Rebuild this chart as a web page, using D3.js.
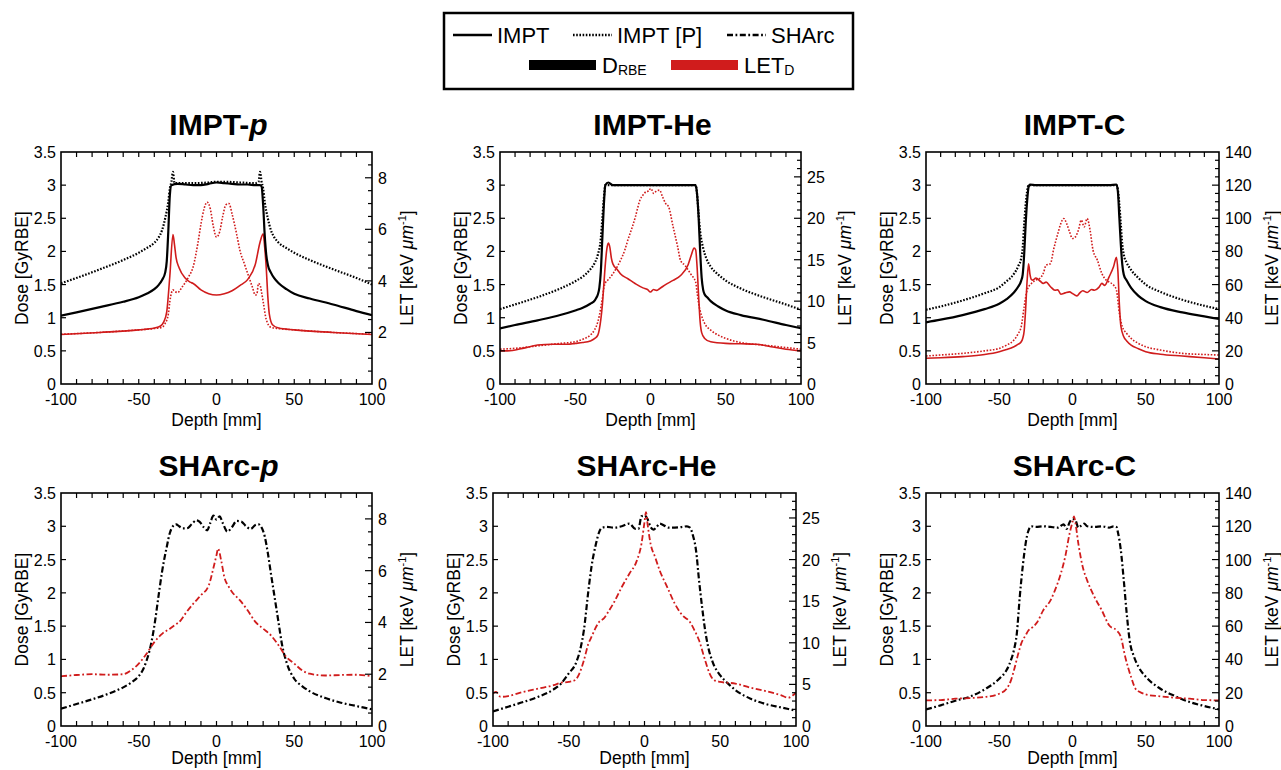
<!DOCTYPE html>
<meta charset="utf-8">
<style>
body { margin: 0; background: #fff; }
svg { font-family: "Liberation Sans", Arial, Helvetica, sans-serif; }
.tick-label { font-size: 16px; }
.axis-label { font-size: 17.5px; text-anchor: middle; }
.title { font-size: 30px; font-weight: bold; text-anchor: middle; }
.frame { fill: none; stroke: #000; stroke-width: 1.6px; }
.tick { stroke: #000; stroke-width: 1.2px; }
.line { fill: none; stroke-linejoin: round; }
</style>
<svg width="1281" height="770"></svg>
<script src="https://d3js.org/d3.v7.min.js"></script>
<script>

// ---- data: [depth mm, value] ----
// dose in GyRBE, LET in keV/um

var imptP_dose = [[-100,1.03],[-90,1.08],[-75,1.16],[-60,1.24],[-50,1.31],[-45,1.36],[-40,1.43],[-37,1.5],[-35,1.57],[-33,1.68],[-32,1.85],[-31,2.3],[-30,2.85],[-29,3.0],[-25,3.02],[-20,3.01],[-15,3.0],[-10,3.0],[-5,3.02],[0,3.04],[5,3.03],[10,3.02],[15,3.01],[20,3.01],[25,3.0],[28,3.0],[29,2.98],[30,2.7],[31,2.25],[32,1.95],[33,1.8],[35,1.68],[37,1.6],[40,1.52],[45,1.43],[50,1.36],[60,1.29],[75,1.2],[90,1.1],[100,1.04]];
var imptP_doseP = [[-100,1.52],[-90,1.6],[-75,1.73],[-60,1.87],[-50,1.98],[-45,2.05],[-40,2.13],[-37,2.22],[-35,2.32],[-33,2.5],[-31,2.75],[-30,2.95],[-29,3.05],[-28,3.2],[-27,3.03],[-25,3.03],[-15,3.03],[-5,3.04],[0,3.05],[5,3.05],[15,3.04],[25,3.03],[27,3.05],[28,3.2],[29,3.05],[30,2.95],[31,2.75],[33,2.5],[35,2.32],[37,2.22],[40,2.13],[45,2.05],[50,1.98],[60,1.87],[75,1.73],[90,1.6],[100,1.5]];
var imptP_let = [[-100,1.92],[-75,2.0],[-50,2.1],[-40,2.17],[-36,2.25],[-34,2.4],[-32,2.8],[-30,4.2],[-28,5.8],[-27,5.4],[-26,4.9],[-24,4.5],[-20,4.1],[-17,3.95],[-15,3.9],[-10,3.65],[-5,3.5],[0,3.45],[5,3.5],[10,3.62],[15,3.82],[20,4.05],[25,4.65],[28,5.5],[30,5.83],[31,5.3],[32,4.5],[33,3.4],[34,2.7],[36,2.3],[40,2.17],[50,2.1],[75,2.0],[100,1.92]];
var imptP_letP = [[-100,1.93],[-75,2.0],[-50,2.1],[-40,2.15],[-35,2.2],[-33,2.35],[-31,2.7],[-30,3.2],[-28,3.65],[-27,3.6],[-25,3.55],[-22,3.77],[-18,4.15],[-15,4.55],[-12,5.45],[-10,6.2],[-8,6.8],[-6,7.05],[-4,6.8],[-2,6.1],[0,5.7],[2,5.9],[4,6.5],[6,6.95],[8,7.0],[10,6.6],[13,5.8],[15,5.2],[18,4.65],[20,4.3],[23,3.77],[25,3.45],[26,3.5],[27,3.9],[28,3.85],[29,3.55],[30,3.2],[32,2.5],[35,2.2],[40,2.15],[50,2.1],[75,2.0],[100,1.93]];

var imptHe_dose = [[-100,0.84],[-90,0.89],[-75,0.96],[-60,1.04],[-50,1.11],[-45,1.15],[-40,1.21],[-37,1.26],[-36,1.3],[-35,1.35],[-34,1.45],[-33,1.7],[-32,2.2],[-31,2.7],[-30,3.0],[-28,3.04],[-25,3.0],[-15,3.0],[0,3.0],[15,3.0],[25,3.0],[30,3.0],[31,2.85],[32,2.5],[33,2.0],[34,1.6],[35,1.42],[36,1.35],[38,1.3],[40,1.25],[45,1.17],[50,1.11],[60,1.04],[75,0.97],[90,0.89],[100,0.84]];
var imptHe_doseP = [[-100,1.13],[-90,1.2],[-75,1.31],[-60,1.44],[-50,1.55],[-45,1.62],[-40,1.73],[-37,1.83],[-35,1.95],[-33,2.2],[-32,2.5],[-31,2.8],[-30,3.0],[-25,3.0],[-15,3.0],[0,3.0],[15,3.0],[25,3.0],[30,3.0],[31,2.85],[32,2.55],[33,2.3],[35,2.05],[37,1.9],[40,1.77],[45,1.65],[50,1.56],[60,1.44],[75,1.31],[90,1.2],[100,1.12]];
var imptHe_let = [[-100,4.0],[-95,4.0],[-85,4.3],[-75,4.7],[-65,4.8],[-55,4.8],[-50,4.9],[-45,5.0],[-40,5.2],[-37,5.5],[-35,5.9],[-34,6.6],[-33,7.8],[-32,9.5],[-31,12.0],[-30,14.5],[-29,16.3],[-28,17.0],[-27,16.5],[-26,15.2],[-25,14.5],[-22,13.8],[-20,13.3],[-15,12.7],[-10,12.1],[-5,11.6],[-2,11.4],[0,11.1],[2,11.4],[4,11.3],[6,11.5],[10,12.0],[15,12.5],[20,13.1],[25,14.4],[27,15.5],[29,16.4],[30,16.2],[31,14.0],[32,10.5],[33,7.5],[34,6.2],[36,5.5],[40,5.1],[50,4.9],[60,4.85],[70,4.8],[80,4.5],[90,4.2],[100,4.0]];
var imptHe_letP = [[-100,4.2],[-90,4.3],[-75,4.6],[-60,4.9],[-50,5.1],[-45,5.4],[-40,5.9],[-37,6.6],[-35,7.5],[-33,9.2],[-32,10.3],[-31,11.6],[-30,12.2],[-28,12.6],[-25,13.3],[-22,14.2],[-20,14.9],[-17,16.2],[-15,17.4],[-12,19.0],[-10,20.2],[-7,22.2],[-5,22.8],[-3,23.2],[-1,23.3],[0,23.6],[1,23.4],[2,23.0],[4,23.3],[6,23.4],[8,22.6],[10,21.8],[12,21.4],[15,19.0],[18,16.6],[20,14.9],[23,14.3],[27,13.2],[30,12.3],[31,11.0],[32,9.7],[34,8.2],[36,7.3],[40,6.5],[45,5.9],[50,5.5],[60,5.0],[75,4.7],[90,4.4],[100,4.2]];

var imptC_dose = [[-100,0.93],[-90,0.97],[-75,1.04],[-60,1.13],[-50,1.21],[-45,1.28],[-40,1.38],[-37,1.47],[-35,1.56],[-34,1.65],[-33,1.95],[-32,2.4],[-31,2.75],[-30,2.97],[-29,3.01],[-25,3.0],[0,3.0],[25,3.0],[30,3.01],[31,2.9],[32,2.5],[33,2.1],[34,1.8],[35,1.65],[37,1.56],[40,1.45],[45,1.33],[50,1.25],[60,1.16],[75,1.08],[90,1.02],[100,0.98]];
var imptC_doseP = [[-100,1.12],[-90,1.17],[-75,1.26],[-60,1.37],[-50,1.46],[-45,1.55],[-40,1.66],[-37,1.78],[-35,1.9],[-34,2.05],[-33,2.4],[-32,2.7],[-31,2.9],[-30,3.0],[0,3.0],[30,3.0],[31,2.93],[32,2.7],[33,2.4],[34,2.1],[35,1.95],[37,1.83],[40,1.72],[45,1.6],[50,1.5],[60,1.39],[75,1.27],[90,1.18],[100,1.13]];
var imptC_let = [[-100,15.5],[-90,15.8],[-75,16.5],[-60,17.8],[-50,19.5],[-45,20.8],[-40,22.5],[-37,24],[-35,25.5],[-34,27.5],[-33,32],[-32,45],[-31,62],[-30,72.5],[-29,66],[-28,63],[-27,62.7],[-25,64],[-22,62],[-20,60.7],[-18,61.5],[-15,58.7],[-12,56.6],[-10,56.8],[-8,54.2],[-5,55.0],[-2,55.6],[0,54.6],[3,53.2],[5,55],[7,56.3],[10,55.2],[13,57],[15,56.6],[18,58.3],[20,60.7],[22,59.5],[25,64.7],[28,70.7],[30,76.5],[31,68],[32,48],[33,35],[35,28.5],[37,26],[40,23.5],[45,21.3],[50,19.5],[60,18],[75,16.9],[90,15.8],[100,15.1]];
var imptC_letP = [[-100,16.9],[-90,17.5],[-75,18.5],[-60,20],[-50,21.5],[-45,23.5],[-40,26.5],[-37,30.5],[-35,34.6],[-33,46.6],[-31,56.6],[-28,60.7],[-25,62.7],[-22,64],[-20,66.7],[-18,71.7],[-15,72.7],[-13,80.8],[-10,90.8],[-8,96.8],[-6,99.9],[-4,96.8],[-2,91.8],[0,87.8],[2,88.8],[4,92.8],[6,98.9],[8,94.8],[10,99.9],[12,92.8],[14,80.8],[17,74.7],[20,66.7],[23,62.7],[25,61.5],[28,59.7],[30,56.6],[32,42.6],[34,34.6],[37,30.5],[40,27.5],[45,24.5],[50,22.5],[60,20.5],[75,18.5],[90,17.8],[100,17.5]];

var sharcP_dose = [[-100,0.26],[-90,0.33],[-80,0.4],[-70,0.48],[-60,0.58],[-55,0.65],[-50,0.75],[-47,0.86],[-45,0.98],[-42,1.24],[-40,1.5],[-37,2.0],[-35,2.32],[-32,2.69],[-30,2.9],[-28,3.0],[-26,3.03],[-24,3.0],[-22,2.97],[-19,2.97],[-16,3.03],[-13,3.09],[-11,3.07],[-8,2.98],[-6,2.94],[-4,3.05],[-2,3.16],[0,3.1],[2,3.15],[4,3.05],[7,2.92],[10,2.99],[13,3.08],[16,3.07],[19,3.0],[22,2.96],[25,3.02],[27,3.03],[29,2.98],[31,2.85],[33,2.6],[35,2.29],[37,1.99],[40,1.54],[42,1.24],[45,0.96],[50,0.71],[55,0.6],[60,0.52],[70,0.42],[80,0.35],[90,0.3],[100,0.25]];
var sharcP_let = [[-100,1.92],[-90,1.97],[-80,2.0],[-70,1.98],[-60,2.0],[-55,2.15],[-50,2.41],[-45,2.79],[-40,3.24],[-35,3.56],[-30,3.76],[-27,3.89],[-23,4.08],[-20,4.34],[-15,4.72],[-10,5.05],[-5,5.43],[-2,6.1],[0,6.6],[1,6.85],[3,6.4],[5,5.76],[8,5.37],[10,5.18],[15,4.86],[20,4.47],[25,4.02],[30,3.76],[35,3.5],[40,3.11],[45,2.66],[50,2.41],[55,2.15],[60,2.02],[70,1.95],[80,1.97],[90,1.98],[100,1.92]];

var sharcHe_dose = [[-100,0.22],[-90,0.29],[-80,0.36],[-70,0.44],[-60,0.55],[-55,0.64],[-50,0.79],[-45,0.96],[-42,1.19],[-40,1.44],[-37,2.04],[-35,2.39],[-32,2.74],[-30,2.91],[-28,2.98],[-25,2.99],[-20,2.98],[-15,3.0],[-10,3.04],[-6,2.96],[-4,2.96],[-2,3.15],[0,3.16],[2,3.11],[4,2.99],[6,2.95],[8,2.99],[10,3.04],[13,3.01],[16,2.98],[20,2.98],[25,2.99],[28,3.0],[30,2.98],[32,2.86],[34,2.64],[36,2.19],[38,1.79],[40,1.44],[42,1.19],[45,0.96],[50,0.76],[55,0.64],[60,0.54],[70,0.41],[80,0.33],[90,0.28],[100,0.23]];
var sharcHe_let = [[-100,3.9],[-98,4.1],[-95,3.5],[-90,3.6],[-80,4.1],[-70,4.5],[-60,4.9],[-55,5.2],[-50,5.3],[-46,5.5],[-43,6.3],[-40,7.9],[-37,9.9],[-35,10.7],[-32,11.9],[-30,12.5],[-27,12.9],[-24,13.7],[-20,14.9],[-15,16.7],[-10,18.3],[-5,19.9],[-2,21.9],[0,24.5],[1,25.7],[2,24.3],[4,21.9],[7,20.3],[10,18.7],[15,16.7],[20,14.7],[25,13.3],[30,12.5],[33,11.5],[36,10.3],[40,7.9],[43,6.3],[46,5.5],[50,5.3],[60,5.1],[70,4.6],[80,4.2],[90,3.7],[95,3.4],[98,3.7],[100,4.0]];

var sharcC_dose = [[-100,0.25],[-90,0.31],[-80,0.38],[-70,0.44],[-60,0.55],[-50,0.71],[-45,0.84],[-42,0.99],[-40,1.14],[-38,1.39],[-36,1.94],[-34,2.39],[-32,2.74],[-30,2.94],[-28,3.0],[-25,2.99],[-20,3.0],[-15,2.99],[-10,2.98],[-6,3.03],[-4,2.96],[-2,3.06],[0,3.11],[2,3.09],[4,2.98],[6,3.01],[8,3.04],[10,3.0],[15,2.99],[20,3.0],[25,2.98],[28,3.0],[30,2.99],[31,2.91],[33,2.64],[35,2.19],[37,1.69],[39,1.29],[42,1.04],[45,0.89],[50,0.74],[60,0.56],[70,0.45],[80,0.36],[90,0.3],[100,0.25]];
var sharcC_let = [[-100,15.4],[-90,15.6],[-80,16.4],[-70,16.8],[-60,17.4],[-50,19.4],[-45,22.4],[-42,27.4],[-40,33.4],[-37,43.5],[-35,49.5],[-32,54.5],[-30,57.5],[-27,59.5],[-24,62.5],[-20,69.5],[-15,75.5],[-12,81.5],[-8,91.5],[-5,101.6],[-2,115.6],[0,122.6],[1,126],[2,122],[4,109.6],[7,95.5],[10,87.5],[15,77.5],[20,69.5],[25,60.5],[30,57.5],[33,53.5],[36,41.5],[40,29.4],[43,22.4],[46,20.4],[50,19.0],[60,17.8],[70,17.0],[80,16.4],[90,15.6],[100,15.4]];

// axes
var depthTicks = [-100, -50, 0, 50, 100];
var doseTicks = [0, 0.5, 1, 1.5, 2, 2.5, 3, 3.5];
var letTicksP = [0, 2, 4, 6, 8];
var letTicksHe = [0, 5, 10, 15, 20, 25];
var letTicksC = [0, 20, 40, 60, 80, 100, 120, 140];

// ---- layout ----
var svg = d3.select("svg");
var red = "#d01c1c";

var panels = [
  { title: "IMPT-", ital: "p", x0: 61, x1: 372, y0: 152, y1: 384, letMax: 9, letTicks: letTicksP, letMinor: 0.5,
    series: [[imptP_let, "let", "solid"], [imptP_letP, "let", "dot"], [imptP_dose, "dose", "solid"], [imptP_doseP, "dose", "dot"]] },
  { title: "IMPT-He", x0: 500, x1: 801, y0: 152, y1: 384, letMax: 28, letTicks: letTicksHe, letMinor: 1,
    series: [[imptHe_let, "let", "solid"], [imptHe_letP, "let", "dot"], [imptHe_dose, "dose", "solid"], [imptHe_doseP, "dose", "dot"]] },
  { title: "IMPT-C", x0: 926, x1: 1219, y0: 152, y1: 384, letMax: 140, letTicks: letTicksC, letMinor: 5,
    series: [[imptC_let, "let", "solid"], [imptC_letP, "let", "dot"], [imptC_dose, "dose", "solid"], [imptC_doseP, "dose", "dot"]] },
  { title: "SHArc-", ital: "p", x0: 61, x1: 372, y0: 493, y1: 726, letMax: 9, letTicks: letTicksP, letMinor: 0.5,
    series: [[sharcP_dose, "dose", "dashdot"], [sharcP_let, "let", "dashdot"]] },
  { title: "SHArc-He", x0: 493, x1: 796, y0: 493, y1: 726, letMax: 28, letTicks: letTicksHe, letMinor: 1,
    series: [[sharcHe_dose, "dose", "dashdot"], [sharcHe_let, "let", "dashdot"]] },
  { title: "SHArc-C", x0: 926, x1: 1219, y0: 493, y1: 726, letMax: 140, letTicks: letTicksC, letMinor: 5,
    series: [[sharcC_dose, "dose", "dashdot"], [sharcC_let, "let", "dashdot"]] }
];

var dashes = { solid: null, dot: "1.6,1.6", dashdot: "6,2.5,1.8,2.5" };

panels.forEach(function(p, i) {
  var g = svg.append("g");
  var x = d3.scaleLinear().domain([-100, 100]).range([p.x0, p.x1]);
  var yDose = d3.scaleLinear().domain([0, 3.5]).range([p.y1, p.y0]);
  var yLet = d3.scaleLinear().domain([0, p.letMax]).range([p.y1, p.y0]);

  g.append("clipPath").attr("id", "clip" + i)
    .append("rect").attr("x", p.x0).attr("y", p.y0).attr("width", p.x1 - p.x0).attr("height", p.y1 - p.y0);

  // curves
  var plot = g.append("g").attr("clip-path", "url(#clip" + i + ")");
  p.series.forEach(function(s) {
    var ys = s[1] === "dose" ? yDose : yLet;
    var line = d3.line().x(function(d) { return x(d[0]); }).y(function(d) { return ys(d[1]); })
      .curve(d3.curveMonotoneX);
    plot.append("path").datum(s[0]).attr("class", "line")
      .attr("d", line)
      .attr("stroke", s[1] === "dose" ? "#000" : red)
      .attr("stroke-width", s[1] === "dose" ? 2.2 : (s[2] === "dashdot" ? 1.8 : 1.6))
      .attr("stroke-dasharray", dashes[s[2]]);
  });

  // frame
  g.append("rect").attr("class", "frame")
    .attr("x", p.x0).attr("y", p.y0).attr("width", p.x1 - p.x0).attr("height", p.y1 - p.y0);

  // depth ticks, every 10 mm top and bottom, pointing in
  d3.range(-90, 100, 10).forEach(function(v) {
    g.append("line").attr("class", "tick").attr("x1", x(v)).attr("x2", x(v)).attr("y1", p.y1).attr("y2", p.y1 - 5);
    g.append("line").attr("class", "tick").attr("x1", x(v)).attr("x2", x(v)).attr("y1", p.y0).attr("y2", p.y0 + 5);
  });
  g.selectAll(".xl").data(depthTicks).enter().append("text")
    .attr("class", "tick-label").attr("text-anchor", "middle")
    .attr("x", function(d) { return x(d); }).attr("y", p.y1 + 21)
    .text(function(d) { return d; });

  // dose axis
  doseTicks.forEach(function(v) {
    if (v > 0 && v < 3.5)
      g.append("line").attr("class", "tick").attr("x1", p.x0).attr("x2", p.x0 + 5).attr("y1", yDose(v)).attr("y2", yDose(v));
  });
  g.selectAll(".yl").data(doseTicks).enter().append("text")
    .attr("class", "tick-label").attr("text-anchor", "end")
    .attr("x", p.x0 - 5).attr("y", function(d) { return yDose(d) + 6; })
    .text(function(d) { return d; });

  // LET axis
  d3.range(p.letMinor, p.letMax, p.letMinor).forEach(function(v) {
    var major = p.letTicks.indexOf(+v.toFixed(3)) >= 0;
    g.append("line").attr("class", "tick").attr("x1", p.x1).attr("x2", p.x1 - (major ? 7 : 4))
      .attr("y1", yLet(v)).attr("y2", yLet(v));
  });
  g.selectAll(".rl").data(p.letTicks).enter().append("text")
    .attr("class", "tick-label").attr("text-anchor", "start")
    .attr("x", p.x1 + 6).attr("y", function(d) { return yLet(d) + 6; })
    .text(function(d) { return d; });

  // titles and labels
  var cx = (p.x0 + p.x1) / 2, cy = (p.y0 + p.y1) / 2;
  var t = g.append("text").attr("class", "title").attr("x", cx + 2).attr("y", p.y0 - 17).text(p.title);
  if (p.ital) t.append("tspan").attr("font-style", "italic").text(p.ital);

  // bottom row sits near the page edge, keep its depth label inside
  var depthY = Math.min(p.y1 + 42, 764);
  g.append("text").attr("class", "axis-label").attr("x", cx).attr("y", depthY).text("Depth [mm]");
  g.append("text").attr("class", "axis-label")
    .attr("transform", "translate(" + (p.x0 - 33) + "," + cy + ") rotate(-90)").text("Dose [GyRBE]");

  var labW = String(p.letTicks[p.letTicks.length - 1]).length * 9;
  var r = g.append("text").attr("class", "axis-label")
    .attr("transform", "translate(" + (p.x1 + 32 + labW) + "," + cy + ") rotate(-90)");
  r.append("tspan").text("LET [keV ");
  r.append("tspan").attr("font-style", "italic").text("\u03bcm");
  r.append("tspan").attr("font-size", "11px").attr("dy", -7).text("-1");
  r.append("tspan").attr("dy", 7).text("]");
});

// ---- legend ----
var leg = svg.append("g");
leg.append("rect").attr("x", 444).attr("y", 13).attr("width", 409).attr("height", 76)
  .attr("fill", "none").attr("stroke", "#000").attr("stroke-width", 2.5);

var legendLines = [
  { x: 453, label: "IMPT", dash: dashes.solid },
  { x: 573, label: "IMPT [P]", dash: dashes.dot },
  { x: 727, label: "SHArc", dash: dashes.dashdot }
];
legendLines.forEach(function(l) {
  leg.append("line").attr("x1", l.x).attr("x2", l.x + 39).attr("y1", 35).attr("y2", 35)
    .attr("stroke", "#000").attr("stroke-width", 2.4).attr("stroke-dasharray", l.dash);
  leg.append("text").attr("x", l.x + 44).attr("y", 43).attr("font-size", "22px").text(l.label);
});

var legendBars = [
  { x: 529, color: "#000", main: "D", sub: "RBE" },
  { x: 671, color: red, main: "LET", sub: "D" }
];
legendBars.forEach(function(b) {
  leg.append("rect").attr("x", b.x).attr("y", 60).attr("width", 67).attr("height", 10).attr("fill", b.color);
  var t = leg.append("text").attr("x", b.x + 73).attr("y", 73).attr("font-size", "22px");
  t.append("tspan").text(b.main);
  t.append("tspan").attr("font-size", "14px").attr("dy", 2).text(b.sub);
});

</script>
